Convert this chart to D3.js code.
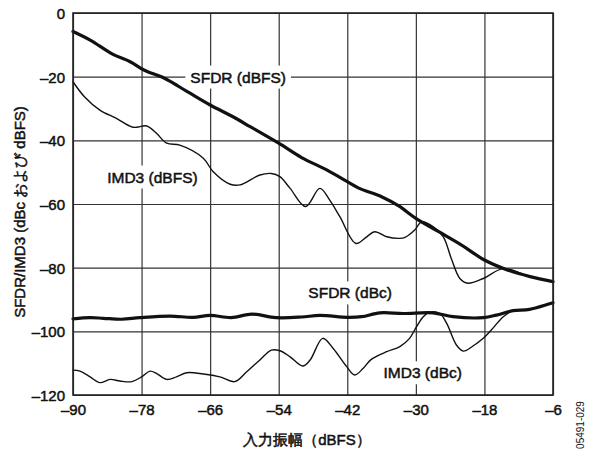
<!DOCTYPE html>
<html>
<head>
<meta charset="utf-8">
<script src="https://cdn.jsdelivr.net/npm/d3@7"></script>
<style>
  html, body { margin: 0; padding: 0; background: #fff; }
  svg { display: block; }
  text { font-family: "Liberation Sans", Arial, Helvetica, sans-serif; fill: #111; }
  .heavy { stroke: #111; stroke-width: 0.5px; }
</style>
</head>
<body>
<svg id="chart" width="590" height="452"></svg>
<script>
// Axis ticks (dBFS input amplitude, dB levels)
const xTicks = [-90, -78, -66, -54, -42, -30, -18, -6];
const yTicks = [0, -20, -40, -60, -80, -100, -120];

// Measured curves: [input amplitude dBFS, level dB]
const sfdrDbfs = [[-90,-5.8],[-87,-8.5],[-83,-13],[-80,-15.3],[-77.5,-18],[-74,-20.5],[-70,-24.7],[-66,-28.9],[-62,-32.6],[-59,-35.7],[-54,-40.9],[-50,-45.4],[-45.6,-49.3],[-42,-53],[-40,-55],[-36,-57.7],[-33,-60.6],[-30,-64.5],[-26,-68.7],[-22,-72.9],[-18,-77.6],[-14,-80.7],[-10,-82.8],[-6,-84.4]];

const imd3Dbfs = [[-90,-21.6],[-88,-26.3],[-85.3,-30.5],[-82.4,-33.1],[-79.5,-35.9],[-77.1,-35.5],[-75.4,-37.8],[-73.6,-40.9],[-71.3,-41.5],[-67.2,-45.6],[-65.5,-49.8],[-62.5,-53.8],[-60.8,-54],[-57.3,-50.9],[-55.3,-50.4],[-53.8,-51.4],[-52,-55.1],[-49.3,-60.8],[-46.8,-55.1],[-45.1,-58.7],[-43.3,-64],[-40.5,-72.4],[-38.6,-70.3],[-37.2,-68.7],[-35.1,-70.3],[-32.8,-70.8],[-31.9,-70.5],[-30.2,-68.2],[-29,-65.6],[-27,-67.1],[-25.2,-70.3],[-23.8,-77.1],[-22.3,-83.4],[-20.9,-84.9],[-18.2,-83.4],[-14.7,-80.3],[-10,-82.8],[-6,-84.4]];

const sfdrDbc = [[-90,-96.1],[-87,-95.7],[-84.7,-95.9],[-81.5,-96.2],[-78.3,-95.7],[-73,-95.2],[-69,-95.6],[-66,-95.0],[-62.3,-95.7],[-58.7,-94.6],[-54.5,-95.7],[-50,-95.5],[-46.8,-95.0],[-42,-95.6],[-39.5,-95.4],[-36.3,-94.2],[-32.2,-94.4],[-27,-94.2],[-23.5,-95.4],[-18.2,-95.7],[-15.9,-94.9],[-13,-93.5],[-10.1,-93.1],[-6,-91]];

const imd3Dbc = [[-90,-112.2],[-88.8,-112.5],[-87,-114.3],[-85.3,-116.1],[-83.5,-115.1],[-81.8,-115.6],[-79.7,-115.8],[-78,-114.3],[-76.5,-112.5],[-75.4,-113.2],[-73.6,-115.1],[-71.9,-114.3],[-70.1,-113.0],[-67.2,-113.4],[-64.3,-114.3],[-61.7,-115.8],[-59.6,-112.7],[-57.3,-109],[-55.3,-105.9],[-53.8,-106.1],[-52,-108],[-49.8,-110.9],[-48.5,-109],[-46.3,-102.2],[-44.5,-105.3],[-42.1,-111.1],[-40.7,-113.7],[-39.2,-111.6],[-37.8,-108.8],[-35.1,-106.4],[-32.8,-104.8],[-31.1,-102.2],[-29.9,-98.6],[-28.7,-95.4],[-27.6,-94],[-25.8,-94.4],[-24.6,-97.5],[-22.9,-104.3],[-21.7,-106.2],[-20,-104.6],[-18.2,-102.2],[-16.8,-99.6],[-14.7,-95.4],[-13,-93.5],[-10.1,-93.1],[-6,-91]];

// Curve labels: text and anchor point in data units
const curveLabels = [
  { text: "SFDR (dBFS)", x: -61.1, y: -20.1 },
  { text: "IMD3 (dBFS)", x: -76.1, y: -51.5 },
  { text: "SFDR (dBc)",  x: -41.5, y: -87.9 },
  { text: "IMD3 (dBc)",  x: -28.8, y: -113 }
];

const xTitle = "入力振幅（dBFS）";
const yTitle = "SFDR/IMD3 (dBc および dBFS)";
const figId = "05491-029";

const svg = d3.select("#chart");
const plotL = 73, plotR = 553, plotT = 13, plotB = 395;

const x = d3.scaleLinear().domain([-90, -6]).range([plotL, plotR]);
const y = d3.scaleLinear().domain([-120, 0]).range([plotB, plotT]);
const fmt = d => (d < 0 ? "\u2013" + Math.abs(d) : String(d));

// Grid + tick labels via axes
const gx = svg.append("g")
  .attr("transform", `translate(0,${plotB})`)
  .call(d3.axisBottom(x).tickValues(xTicks).tickSize(-(plotB - plotT)).tickPadding(9).tickFormat(fmt));
const gy = svg.append("g")
  .attr("transform", `translate(${plotL},0)`)
  .call(d3.axisLeft(y).tickValues(yTicks).tickSize(-(plotR - plotL)).tickPadding(8).tickFormat(fmt));

[gx, gy].forEach(g => {
  g.select(".domain").remove();
  g.selectAll(".tick line").attr("stroke", "#333").attr("stroke-width", 1.2);
  g.selectAll(".tick text")
    .attr("class", "heavy")
    .style("font-size", "15px")
    .attr("fill", "#111");
});
gy.selectAll(".tick text").attr("dy", "0.36em");

// Curve labels with white knockouts over the grid
const labelG = svg.append("g");
curveLabels.forEach(l => {
  const t = labelG.append("text")
    .attr("class", "heavy")
    .attr("x", x(l.x)).attr("y", y(l.y))
    .attr("text-anchor", "middle").attr("dy", "0.36em")
    .style("font-size", "15.5px")
    .text(l.text);
  const b = t.node().getBBox();
  labelG.insert("rect", () => t.node())
    .attr("x", b.x - 5).attr("y", b.y - 3)
    .attr("width", b.width + 10).attr("height", b.height + 6)
    .attr("fill", "#fff");
});

// Curves
const line = d3.line().x(d => x(d[0])).y(d => y(d[1])).curve(d3.curveCatmullRom.alpha(0.5));
const curves = svg.append("g").attr("fill", "none").attr("stroke", "#111")
  .attr("stroke-linejoin", "round").attr("stroke-linecap", "round");

curves.append("path").datum(imd3Dbfs).attr("stroke-width", 1.4).attr("d", line);
curves.append("path").datum(imd3Dbc).attr("stroke-width", 1.4).attr("d", line);
curves.append("path").datum(sfdrDbfs).attr("stroke-width", 3.2).attr("d", line);
curves.append("path").datum(sfdrDbc).attr("stroke-width", 3.2).attr("d", line);

// Plot frame
svg.append("rect")
  .attr("x", plotL).attr("y", plotT)
  .attr("width", plotR - plotL).attr("height", plotB - plotT)
  .attr("fill", "none").attr("stroke", "#222").attr("stroke-width", 1.6);

// Axis titles
svg.append("text")
  .attr("class", "heavy")
  .attr("x", 307).attr("y", 445)
  .attr("text-anchor", "middle")
  .style("font-size", "15px")
  .text(xTitle);

svg.append("text")
  .attr("class", "heavy")
  .attr("transform", "translate(25,212) rotate(-90)")
  .attr("text-anchor", "middle")
  .style("font-size", "15px")
  .text(yTitle);

svg.append("text")
  .attr("transform", "translate(584,425) rotate(-90)")
  .attr("text-anchor", "middle")
  .style("font-size", "10px")
  .attr("fill", "#444")
  .text(figId);
</script>
</body>
</html>
